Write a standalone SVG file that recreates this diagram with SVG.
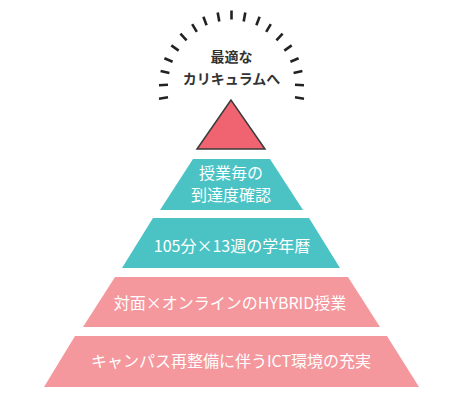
<svg xmlns="http://www.w3.org/2000/svg" width="449" height="406" viewBox="0 0 449 406">
<style>
.dash{stroke:#222;stroke-width:2.6;stroke-linecap:butt}
.teal{fill:#4bc3c5}
.pink{fill:#f4989e}
.lbl{font-family:"Noto Sans CJK JP","Noto Sans",sans-serif;font-size:16px;fill:#ffffff;text-anchor:middle}
.top{font-family:"Noto Sans CJK JP","Noto Sans",sans-serif;font-size:14px;font-weight:bold;fill:#333333;text-anchor:middle}
</style>
<rect width="449" height="406" fill="#ffffff"/>
<g id="rays">
<line class="dash" x1="159" y1="98.7" x2="168" y2="97.3"/>
<line class="dash" x1="159" y1="85.2" x2="168" y2="84.8"/>
<line class="dash" x1="160.6" y1="70.9" x2="169.4" y2="73.1"/>
<line class="dash" x1="164.4" y1="58.2" x2="172.6" y2="61.8"/>
<line class="dash" x1="171.3" y1="45.4" x2="178.7" y2="50.6"/>
<line class="dash" x1="180.4" y1="33.7" x2="186.6" y2="40.3"/>
<line class="dash" x1="192.2" y1="24.2" x2="196.8" y2="31.8"/>
<line class="dash" x1="203.4" y1="16.8" x2="206.6" y2="25.2"/>
<line class="dash" x1="217.7" y1="12.6" x2="219.3" y2="21.4"/>
<line class="dash" x1="231.5" y1="10.5" x2="231.5" y2="19.5"/>
<line class="dash" x1="304" y1="98.7" x2="295" y2="97.3"/>
<line class="dash" x1="304" y1="85.2" x2="295" y2="84.8"/>
<line class="dash" x1="302.4" y1="70.9" x2="293.6" y2="73.1"/>
<line class="dash" x1="298.6" y1="58.2" x2="290.4" y2="61.8"/>
<line class="dash" x1="291.7" y1="45.4" x2="284.3" y2="50.6"/>
<line class="dash" x1="282.6" y1="33.7" x2="276.4" y2="40.3"/>
<line class="dash" x1="270.8" y1="24.2" x2="266.2" y2="31.8"/>
<line class="dash" x1="259.6" y1="16.8" x2="256.4" y2="25.2"/>
<line class="dash" x1="245.3" y1="12.6" x2="243.7" y2="21.4"/>
</g>
<g id="goal">
<text class="top" x="231.5" y="62">最適な</text>
<text class="top" x="231.5" y="84">カリキュラムへ</text>
</g>
<g id="apex">
<polygon points="231,100 197,149 265,149" fill="#ef6470" stroke="#3a3a3a" stroke-width="1.5" stroke-linejoin="miter"/>
</g>
<g id="level4">
<polygon class="teal" points="193,159 270,159 303,210 160,210"/>
<text class="lbl" x="231" y="179">授業毎の</text>
<text class="lbl" x="231" y="201">到達度確認</text>
</g>
<g id="level3">
<polygon class="teal" points="153,218 309,218 340,268 122,268"/>
<text class="lbl" x="232" y="252" font-size="16.5">105分×13週の学年暦</text>
</g>
<g id="level2">
<polygon class="pink" points="115,277 348,277 380,327 83,327"/>
<text class="lbl" x="230" y="309">対面×オンラインのHYBRID授業</text>
</g>
<g id="level1">
<polygon class="pink" points="75,336 387,336 419,387 44,387"/>
<text class="lbl" x="231" y="367">キャンパス再整備に伴うICT環境の充実</text>
</g>
<g id="connectors"></g>
</svg>
